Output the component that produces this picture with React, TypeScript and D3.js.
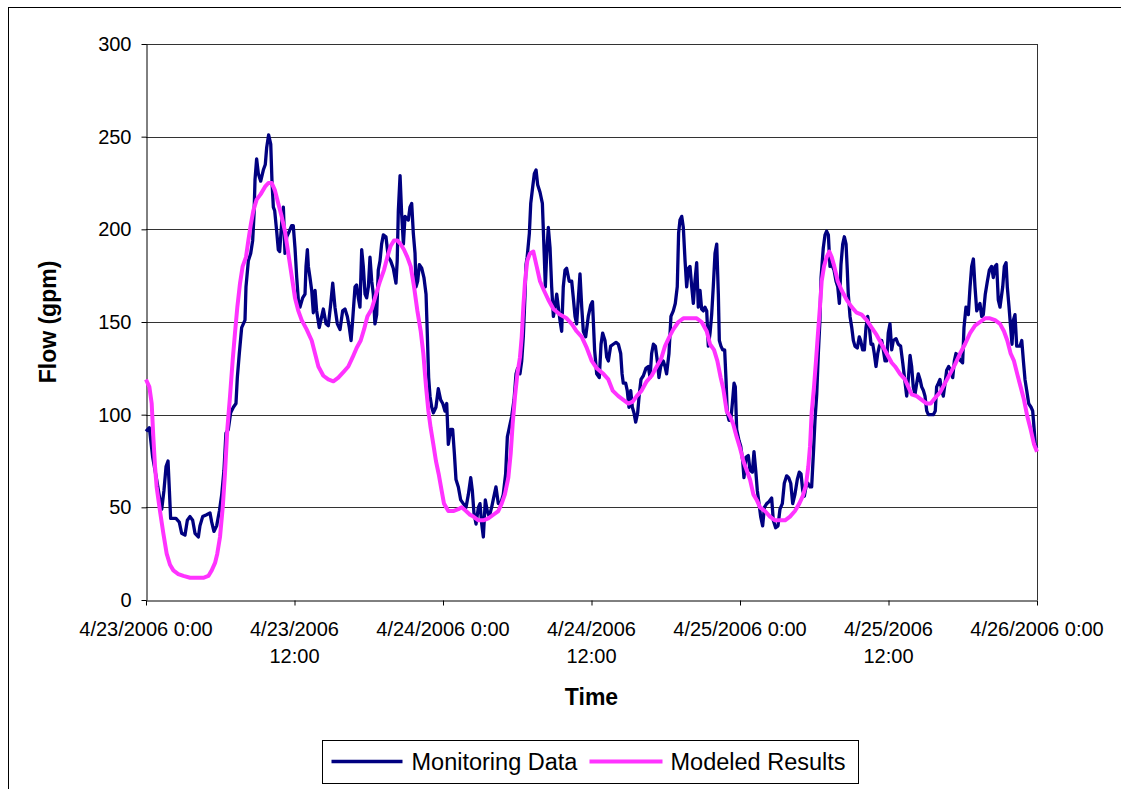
import React, { useRef, useEffect } from "react";
import * as d3 from "d3";

type Point = [number, number]; // [hours since 4/23/2006 0:00, flow in gpm]

const startTime = new Date(2006, 3, 23, 0, 0);

const yTicks = [0, 50, 100, 150, 200, 250, 300];
const xTickHours = [0, 12, 24, 36, 48, 60, 72];
const xTickLabels = [
  ["4/23/2006 0:00"],
  ["4/23/2006", "12:00"],
  ["4/24/2006 0:00"],
  ["4/24/2006", "12:00"],
  ["4/25/2006 0:00"],
  ["4/25/2006", "12:00"],
  ["4/26/2006 0:00"],
];

const seriesNames = ["Monitoring Data", "Modeled Results"];
const seriesColors = ["#000080", "#ff33ff"];

const monitoring: Point[] = [
  [0, 91], [0.27, 93], [0.54, 77], [0.86, 65], [1.13, 54], [1.27, 49], [1.45, 59], [1.62, 72],
  [1.78, 75], [1.89, 59], [1.99, 44], [2.21, 44], [2.42, 44], [2.69, 42], [2.88, 36], [3.15, 35],
  [3.34, 43], [3.56, 45], [3.77, 43], [3.96, 36], [4.23, 34], [4.36, 40], [4.58, 45], [4.9, 46],
  [5.17, 47], [5.31, 42], [5.49, 37], [5.71, 40], [5.93, 48], [6.12, 57], [6.3, 70], [6.46, 90],
  [6.65, 92], [6.84, 101], [7.06, 104], [7.27, 106], [7.38, 120], [7.54, 133], [7.73, 147], [8.0, 151],
  [8.08, 169], [8.27, 183], [8.46, 187], [8.62, 194], [8.73, 208], [8.81, 227], [8.94, 238], [9.08, 230],
  [9.27, 226], [9.48, 232], [9.64, 235], [9.75, 244], [9.91, 251], [10.08, 246], [10.18, 226], [10.29, 212],
  [10.4, 210], [10.56, 199], [10.69, 189], [10.8, 188], [10.96, 203], [11.1, 212], [11.23, 187], [11.37, 196],
  [11.58, 199], [11.77, 202], [11.9, 202], [12.04, 190], [12.18, 174], [12.31, 162], [12.44, 158], [12.66, 163],
  [12.85, 165], [12.93, 180], [13.04, 189], [13.12, 180], [13.25, 174], [13.39, 167], [13.52, 155], [13.66, 167],
  [13.79, 156], [14.0, 147], [14.2, 153], [14.33, 157], [14.55, 149], [14.73, 148], [14.93, 160], [15.09, 171],
  [15.27, 158], [15.46, 149], [15.68, 146], [15.89, 156], [16.08, 157], [16.27, 153], [16.43, 147], [16.57, 140],
  [16.7, 151], [16.89, 169], [17.02, 170], [17.16, 163], [17.29, 158], [17.43, 189], [17.56, 180], [17.7, 165],
  [17.83, 163], [17.97, 169], [18.1, 185], [18.24, 172], [18.37, 165], [18.5, 149], [18.64, 154], [18.77, 178],
  [18.91, 183], [19.04, 192], [19.18, 197], [19.39, 196], [19.58, 185], [19.77, 183], [19.98, 179], [20.2, 171],
  [20.3, 183], [20.39, 210], [20.53, 229], [20.66, 208], [20.8, 192], [20.93, 207], [21.06, 206], [21.2, 205],
  [21.33, 212], [21.47, 214], [21.6, 198], [21.74, 187], [21.82, 169], [21.95, 172], [22.09, 181], [22.28, 179],
  [22.46, 174], [22.63, 165], [22.73, 144], [22.84, 120], [22.95, 110], [23.09, 104], [23.22, 101], [23.43, 104],
  [23.62, 114], [23.81, 108], [23.98, 106], [24.16, 102], [24.3, 106], [24.43, 84], [24.62, 92], [24.78, 92],
  [24.92, 79], [25.05, 65], [25.24, 61], [25.43, 54], [25.64, 52], [25.86, 50], [26.05, 57], [26.24, 66],
  [26.37, 59], [26.5, 47], [26.67, 41], [26.86, 50], [26.99, 52], [27.13, 41], [27.26, 34], [27.42, 54],
  [27.58, 48], [27.74, 45], [27.93, 50], [28.12, 56], [28.28, 61], [28.47, 52], [28.66, 52], [28.87, 57],
  [29.06, 68], [29.2, 88], [29.36, 93], [29.55, 99], [29.74, 108], [29.9, 122], [30.03, 125], [30.22, 122],
  [30.36, 129], [30.49, 142], [30.63, 165], [30.71, 181], [30.8, 185], [30.98, 198], [31.09, 214], [31.25, 223],
  [31.38, 230], [31.52, 232], [31.65, 224], [31.84, 220], [32.03, 214], [32.16, 190], [32.27, 169], [32.38, 187],
  [32.51, 201], [32.65, 190], [32.78, 169], [32.92, 153], [33.05, 158], [33.19, 165], [33.32, 158], [33.45, 151],
  [33.59, 145], [33.72, 169], [33.86, 178], [33.99, 179], [34.2, 172], [34.4, 172], [34.53, 163], [34.67, 153],
  [34.8, 149], [34.94, 163], [35.07, 176], [35.21, 158], [35.34, 145], [35.53, 142], [35.74, 153], [35.93, 159],
  [36.08, 161], [36.25, 135], [36.42, 122], [36.63, 120], [36.77, 138], [36.9, 144], [37.09, 140], [37.23, 131],
  [37.36, 129], [37.55, 137], [37.76, 138], [37.98, 139], [38.17, 138], [38.36, 133], [38.47, 122], [38.57, 117],
  [38.76, 117], [38.89, 113], [39.03, 104], [39.17, 113], [39.3, 104], [39.43, 101], [39.57, 96], [39.73, 101],
  [39.86, 111], [40.0, 119], [40.19, 121], [40.4, 125], [40.59, 126], [40.73, 120], [40.86, 133], [41.0, 138],
  [41.16, 137], [41.32, 129], [41.45, 120], [41.59, 126], [41.8, 129], [41.94, 126], [42.07, 122], [42.26, 133],
  [42.42, 153], [42.61, 156], [42.77, 160], [42.93, 169], [43.04, 198], [43.15, 205], [43.29, 207], [43.42, 201],
  [43.56, 183], [43.69, 169], [43.83, 179], [43.96, 180], [44.1, 169], [44.23, 160], [44.36, 172], [44.5, 182],
  [44.63, 158], [44.77, 167], [44.9, 157], [45.04, 156], [45.17, 158], [45.31, 156], [45.44, 137], [45.58, 144],
  [45.71, 154], [45.84, 169], [45.98, 187], [46.12, 192], [46.25, 165], [46.33, 140], [46.46, 137], [46.6, 135],
  [46.76, 135], [46.87, 119], [46.97, 101], [47.11, 97], [47.25, 97], [47.38, 106], [47.52, 117], [47.62, 115],
  [47.73, 92], [47.92, 86], [48.06, 83], [48.22, 75], [48.32, 66], [48.48, 77], [48.67, 78], [48.81, 70],
  [49.0, 69], [49.13, 80], [49.27, 70], [49.4, 59], [49.54, 52], [49.67, 45], [49.83, 40], [49.97, 50],
  [50.16, 52], [50.34, 53], [50.56, 55], [50.69, 43], [50.88, 39], [51.07, 40], [51.23, 49], [51.42, 52],
  [51.58, 63], [51.77, 67], [51.93, 66], [52.1, 63], [52.26, 52], [52.44, 57], [52.63, 65], [52.79, 69],
  [52.93, 68], [53.07, 59], [53.2, 56], [53.33, 61], [53.49, 63], [53.66, 61], [53.79, 61], [53.93, 79],
  [54.06, 97], [54.2, 111], [54.33, 133], [54.46, 151], [54.55, 174], [54.63, 181], [54.73, 190], [54.87, 197],
  [55.0, 199], [55.14, 197], [55.27, 180], [55.41, 181], [55.6, 178], [55.76, 172], [55.9, 169], [56.03, 160],
  [56.16, 181], [56.3, 192], [56.43, 196], [56.57, 192], [56.67, 178], [56.75, 165], [56.89, 153], [57.03, 147],
  [57.16, 140], [57.29, 137], [57.48, 136], [57.64, 142], [57.75, 140], [57.91, 135], [58.05, 135], [58.18, 147],
  [58.32, 153], [58.45, 147], [58.59, 138], [58.73, 138], [58.85, 133], [58.99, 126], [59.13, 133], [59.26, 137],
  [59.45, 140], [59.58, 135], [59.72, 129], [59.85, 129], [59.98, 144], [60.12, 149], [60.26, 135], [60.39, 140],
  [60.61, 141], [60.79, 138], [60.98, 137], [61.15, 128], [61.31, 119], [61.47, 110], [61.6, 119], [61.74, 132],
  [61.87, 126], [62.0, 115], [62.14, 111], [62.28, 117], [62.41, 122], [62.55, 119], [62.68, 115], [62.82, 113],
  [62.95, 110], [63.09, 102], [63.22, 100], [63.41, 100], [63.62, 100], [63.78, 102], [63.89, 115], [64.03, 117],
  [64.16, 119], [64.3, 113], [64.43, 110], [64.57, 117], [64.7, 124], [64.86, 126], [65.03, 124], [65.19, 120],
  [65.32, 129], [65.45, 133], [65.64, 131], [65.83, 129], [65.99, 128], [66.1, 147], [66.26, 158], [66.45, 154],
  [66.59, 169], [66.72, 180], [66.86, 184], [66.99, 169], [67.13, 156], [67.26, 158], [67.39, 160], [67.53, 153],
  [67.66, 154], [67.82, 165], [67.99, 172], [68.15, 178], [68.33, 180], [68.47, 174], [68.61, 180], [68.74, 181],
  [68.87, 162], [69.01, 158], [69.23, 169], [69.36, 180], [69.5, 182], [69.6, 169], [69.74, 158], [69.87, 147],
  [69.98, 138], [70.09, 151], [70.22, 154], [70.36, 137], [70.5, 137], [70.63, 137], [70.77, 140], [70.9, 129],
  [71.03, 119], [71.17, 113], [71.33, 106], [71.52, 104], [71.65, 102], [71.76, 93], [71.86, 84], [71.98, 82],
];

const modeled: Point[] = [
  [0, 119], [0.27, 115], [0.46, 106], [0.59, 88], [0.73, 72], [0.86, 61], [1.13, 48], [1.4, 36],
  [1.67, 25], [1.94, 19], [2.21, 16], [2.61, 14], [3.02, 13], [3.56, 12], [4.1, 12], [4.63, 12],
  [5.04, 13], [5.31, 16], [5.58, 20], [5.76, 25], [5.98, 34], [6.2, 50], [6.38, 68], [6.57, 92],
  [6.79, 110], [7.0, 129], [7.19, 144], [7.38, 158], [7.6, 171], [7.81, 180], [8.08, 185], [8.27, 194],
  [8.48, 203], [8.67, 210], [8.94, 216], [9.27, 219], [9.62, 223], [9.89, 225], [10.16, 225], [10.42, 221],
  [10.69, 214], [10.96, 207], [11.23, 199], [11.5, 187], [11.77, 175], [12.04, 163], [12.31, 156], [12.58, 151],
  [12.98, 146], [13.39, 140], [13.66, 133], [13.93, 126], [14.33, 121], [14.73, 119], [15.14, 118], [15.54, 120],
  [15.95, 123], [16.35, 126], [16.7, 131], [17.02, 136], [17.35, 140], [17.62, 146], [17.89, 153], [18.24, 157],
  [18.59, 165], [18.91, 172], [19.23, 178], [19.5, 185], [19.77, 191], [20.04, 194], [20.31, 194], [20.58, 192],
  [20.85, 189], [21.12, 185], [21.39, 180], [21.66, 169], [21.93, 156], [22.2, 145], [22.41, 133], [22.63, 115],
  [22.82, 102], [23.0, 93], [23.22, 84], [23.43, 75], [23.65, 68], [23.89, 59], [24.08, 52], [24.43, 48],
  [24.83, 48], [25.24, 49], [25.51, 50], [25.86, 48], [26.18, 46], [26.45, 45], [26.86, 43], [27.26, 43],
  [27.66, 44], [28.07, 46], [28.47, 48], [28.74, 52], [29.0, 57], [29.28, 66], [29.47, 79], [29.63, 95],
  [29.82, 110], [30.01, 122], [30.22, 131], [30.36, 142], [30.49, 158], [30.63, 172], [30.81, 183], [31.03, 187],
  [31.3, 188], [31.57, 180], [31.84, 172], [32.16, 167], [32.51, 162], [32.92, 157], [33.45, 154], [33.99, 152],
  [34.4, 149], [34.8, 145], [35.21, 142], [35.62, 136], [36.02, 129], [36.42, 125], [36.96, 122], [37.36, 119],
  [37.71, 113], [38.17, 110], [38.57, 108], [38.98, 106], [39.33, 107], [39.65, 110], [40.05, 113], [40.46, 118],
  [40.86, 121], [41.27, 126], [41.62, 130], [41.94, 137], [42.29, 142], [42.61, 146], [43.02, 150], [43.42, 152],
  [43.96, 152], [44.5, 152], [44.9, 150], [45.31, 145], [45.58, 138], [45.9, 135], [46.17, 129], [46.44, 120],
  [46.65, 114], [46.92, 102], [47.19, 99], [47.45, 95], [47.73, 88], [48.0, 82], [48.27, 75], [48.54, 70],
  [48.81, 65], [49.08, 57], [49.35, 54], [49.62, 50], [50.02, 48], [50.42, 45], [50.83, 43], [51.23, 43],
  [51.64, 43], [52.04, 45], [52.44, 48], [52.79, 52], [53.07, 56], [53.33, 62], [53.52, 72], [53.66, 83],
  [53.79, 101], [53.98, 115], [54.14, 129], [54.28, 142], [54.46, 158], [54.6, 172], [54.79, 180], [55.0, 185],
  [55.22, 188], [55.41, 185], [55.62, 180], [55.9, 172], [56.22, 167], [56.62, 162], [57.03, 158], [57.43, 155],
  [57.83, 154], [58.24, 151], [58.64, 147], [59.04, 143], [59.45, 138], [59.85, 133], [60.26, 128], [60.53, 126],
  [60.93, 122], [61.33, 119], [61.6, 115], [61.87, 111], [62.28, 110], [62.68, 108], [63.09, 106], [63.41, 106],
  [63.76, 109], [64.16, 112], [64.57, 117], [64.97, 122], [65.37, 127], [65.78, 133], [66.18, 138], [66.59, 144],
  [66.99, 148], [67.39, 150], [67.8, 152], [68.2, 152], [68.61, 151], [69.01, 149], [69.33, 145], [69.6, 140],
  [69.87, 133], [70.14, 129], [70.4, 122], [70.68, 115], [70.95, 108], [71.22, 99], [71.49, 92], [71.76, 84],
  [72.0, 80],
];

const toDate = (h: number) => new Date(startTime.getTime() + h * 3600000);

const App: React.FC = () => {
  const svgRef = useRef<SVGSVGElement>(null);

  useEffect(() => {
    const W = 1121;
    const H = 789;
    const margin = { top: 44, right: W - 1037, bottom: H - 600, left: 146 };
    const width = W - margin.left - margin.right;
    const height = H - margin.top - margin.bottom;
    const font = "'Liberation Sans', Arial, sans-serif";

    const svg = d3.select(svgRef.current);
    svg.selectAll("*").remove();

    // outer chart area border (right / bottom edges fall outside the picture)
    svg.append("rect")
      .attr("x", 8.5).attr("y", 7.5)
      .attr("width", W + 20).attr("height", H + 20)
      .attr("fill", "#fff").attr("stroke", "#000").attr("stroke-width", 1);

    const focus = svg.append("g").attr("transform", `translate(${margin.left},${margin.top})`);

    const x = d3.scaleTime().domain([toDate(0), toDate(72)]).range([0, width]);
    const y = d3.scaleLinear().domain([0, 300]).range([height, 0]);

    // gridlines
    focus.append("g")
      .selectAll("line")
      .data(yTicks.filter(d => d > 0))
      .enter()
      .append("line")
      .attr("x1", 0).attr("x2", width)
      .attr("y1", d => Math.round(y(d)) + 0.5).attr("y2", d => Math.round(y(d)) + 0.5)
      .attr("stroke", "#333").attr("stroke-width", 1);

    // right edge of plot area
    focus.append("line")
      .attr("x1", width + 0.5).attr("x2", width + 0.5)
      .attr("y1", 0).attr("y2", height)
      .attr("stroke", "#333");

    const yAxis = focus.append("g")
      .attr("transform", "translate(0.5,0)")
      .call(d3.axisLeft(y).tickValues(yTicks).tickSize(5).tickSizeOuter(0).tickPadding(10));
    yAxis.selectAll("text").style("font-family", font).style("font-size", "20px").attr("fill", "#000");
    yAxis.selectAll("line, path").attr("stroke", "#000");

    const xAxis = focus.append("g")
      .attr("transform", `translate(0,${height + 0.5})`)
      .call(d3.axisBottom(x).tickValues(xTickHours.map(toDate)).tickSize(5).tickSizeOuter(0).tickFormat(() => ""));
    xAxis.selectAll("line, path").attr("stroke", "#000");

    const labels = focus.append("g")
      .selectAll("text")
      .data(xTickHours)
      .enter()
      .append("text")
      .attr("text-anchor", "middle")
      .style("font-family", font)
      .style("font-size", "20px")
      .attr("fill", "#000");
    labels.each(function (h, i) {
      const t = d3.select(this);
      xTickLabels[i].forEach((s, j) => {
        t.append("tspan")
          .attr("x", x(toDate(h)))
          .attr("y", height + 36 + j * 27)
          .text(s);
      });
    });

    const line = d3.line<Point>()
      .x(d => x(toDate(d[0])))
      .y(d => y(d[1]));

    focus.append("path")
      .datum(monitoring)
      .attr("fill", "none")
      .attr("stroke", seriesColors[0])
      .attr("stroke-width", 3.3)
      .attr("stroke-linejoin", "round")
      .attr("d", line);

    focus.append("path")
      .datum(modeled)
      .attr("fill", "none")
      .attr("stroke", seriesColors[1])
      .attr("stroke-width", 4)
      .attr("stroke-linejoin", "round")
      .attr("d", line);

    // axis titles
    svg.append("text")
      .attr("transform", `translate(56,${margin.top + height / 2}) rotate(-90)`)
      .attr("text-anchor", "middle")
      .style("font-family", font).style("font-size", "23px").style("font-weight", "bold")
      .text("Flow (gpm)");

    svg.append("text")
      .attr("x", margin.left + width / 2).attr("y", 705)
      .attr("text-anchor", "middle")
      .style("font-family", font).style("font-size", "23px").style("font-weight", "bold")
      .text("Time");

    // legend
    const legend = svg.append("g").attr("transform", "translate(322.5,740.5)");
    legend.append("rect")
      .attr("width", 536).attr("height", 43)
      .attr("fill", "#fff").attr("stroke", "#000");
    const legendX = [[9, 80, 89], [267, 340, 348]];
    seriesNames.forEach((name, i) => {
      legend.append("line")
        .attr("x1", legendX[i][0]).attr("x2", legendX[i][1])
        .attr("y1", 21).attr("y2", 21)
        .attr("stroke", seriesColors[i]).attr("stroke-width", i === 0 ? 3.3 : 4);
      legend.append("text")
        .attr("x", legendX[i][2]).attr("y", 29)
        .style("font-family", font).style("font-size", "23.5px")
        .text(name);
    });
  }, []);

  return (
    <div style={{ position: "absolute", left: 0, top: 0 }}>
      <svg ref={svgRef} width={1121} height={789} style={{ display: "block" }}></svg>
    </div>
  );
};

export default App;
